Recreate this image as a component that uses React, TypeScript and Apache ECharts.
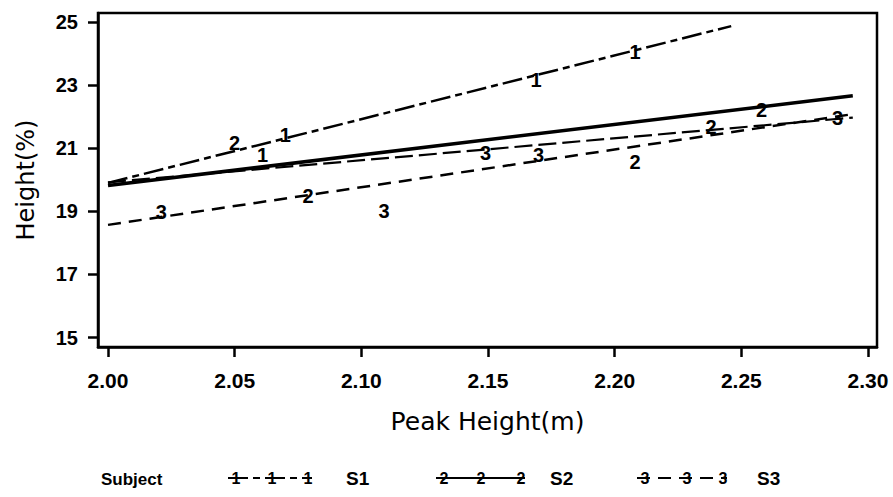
import React, { useEffect, useRef } from "react";
import * as echarts from "echarts";

// ---- data ----
const xTicks = [2.0, 2.05, 2.1, 2.15, 2.2, 2.25, 2.3];
const yTicks = [15, 17, 19, 21, 23, 25];

// fitted lines (end points)
const s1LineX = [2.0, 2.246];
const s1LineY = [19.9, 24.87];
const allLineX = [2.0, 2.294];
const allLineY = [19.82, 22.66];
const s2LineX = [2.0, 2.294];
const s2LineY = [19.92, 21.97];
const s3LineX = [2.0, 2.294];
const s3LineY = [18.57, 22.08];

// observations
const s1X = [2.061, 2.07, 2.169, 2.208];
const s1Y = [20.8, 21.43, 23.17, 24.05];
const s2X = [2.05, 2.079, 2.208, 2.238, 2.258];
const s2Y = [21.18, 19.47, 20.55, 21.68, 22.22];
const s3X = [2.021, 2.109, 2.149, 2.17, 2.288];
const s3Y = [18.97, 19.0, 20.86, 20.8, 21.97];

const legendNames = ["S1", "S2", "S3"];

const pairs = (xs: number[], ys: number[]) => xs.map((x, i) => [x, ys[i]]);

const lineSeries = (data: number[][], width: number, dash: number[] | "solid") => ({
  type: "line",
  data,
  symbol: "none",
  silent: true,
  color: "#000",
  lineStyle: { color: "#000", width, type: dash, cap: "butt" },
});

const pointSeries = (name: string, data: number[][], digit: string) => ({
  type: "custom",
  name,
  data,
  z: 5,
  silent: true,
  renderItem: (_params: any, api: any) => {
    const p = api.coord([api.value(0), api.value(1)]);
    return {
      type: "text",
      x: p[0],
      y: p[1],
      style: {
        text: digit,
        fill: "#000",
        font: "bold 20px 'Liberation Sans'",
        align: "center",
        verticalAlign: "middle",
      },
    };
  },
});

const S1_DASH = [20, 5, 7, 5];
const S2_DASH = [18, 6];
const S3_DASH = [13, 8];

function legendItem(x0: number, digitXs: number[], digit: string, dash: number[], label: string, labelX: number) {
  const y = 478;
  const els: any[] = [
    {
      type: "line",
      shape: { x1: x0, y1: y, x2: digitXs[digitXs.length - 1] + 4, y2: y },
      style: { stroke: "#000", lineWidth: 2, lineDash: dash },
    },
  ];
  digitXs.forEach((dx) => {
    els.push({
      type: "text",
      x: dx,
      y,
      style: {
        text: digit,
        fill: "#000",
        font: "bold 16px 'Liberation Sans'",
        align: "center",
        verticalAlign: "middle",
      },
    });
  });
  els.push({
    type: "text",
    x: labelX,
    y,
    style: {
      text: label,
      fill: "#000",
      font: "bold 19px 'Liberation Sans'",
      align: "left",
      verticalAlign: "middle",
    },
  });
  return els;
}

export default function App() {
  const ref = useRef<HTMLDivElement>(null);
  useEffect(() => {
    if (!ref.current) return;
    const chart = echarts.init(ref.current, undefined, { renderer: "svg" });
    const axisCommon = {
      axisLine: { show: true, lineStyle: { color: "#000", width: 2.5 } },
      axisTick: { show: true, inside: false, length: 10, lineStyle: { color: "#000", width: 2.5 } },
      splitLine: { show: false },
    };
    chart.setOption({
      animation: false,
      backgroundColor: "#fff",
      grid: { left: 98, right: 16, top: 13, bottom: 150, show: true, borderColor: "#000", borderWidth: 2.5 },
      xAxis: {
        type: "value",
        min: 1.99605,
        max: 2.30355,
        ...axisCommon,
        axisTick: { ...axisCommon.axisTick, customValues: xTicks },
        axisLabel: {
          customValues: xTicks,
          formatter: (v: number) => v.toFixed(2),
          color: "#000",
          fontFamily: "Liberation Sans",
          fontWeight: "bold",
          fontSize: 21,
          margin: 23,
        },
        name: "Peak Height(m)",
        nameLocation: "middle",
        nameGap: 62,
        nameTextStyle: { color: "#000", fontFamily: "DejaVu Sans", fontSize: 25 },
      },
      yAxis: {
        type: "value",
        min: 14.7,
        max: 25.285,
        ...axisCommon,
        axisTick: { ...axisCommon.axisTick, customValues: yTicks },
        axisLabel: {
          customValues: yTicks,
          formatter: (v: number) => String(Math.round(v)),
          color: "#000",
          fontFamily: "Liberation Sans",
          fontWeight: "bold",
          fontSize: 20,
          margin: 20,
        },
        name: "Height(%)",
        nameLocation: "middle",
        nameGap: 60,
        nameRotate: 90,
        nameTextStyle: { color: "#000", fontFamily: "DejaVu Sans", fontSize: 24 },
      },
      series: [
        lineSeries(pairs(s1LineX, s1LineY), 2.5, S1_DASH),
        lineSeries(pairs(allLineX, allLineY), 3.5, "solid"),
        lineSeries(pairs(s2LineX, s2LineY), 2.2, S2_DASH),
        lineSeries(pairs(s3LineX, s3LineY), 2.5, S3_DASH),
        pointSeries(legendNames[0], pairs(s1X, s1Y), "1"),
        pointSeries(legendNames[1], pairs(s2X, s2Y), "2"),
        pointSeries(legendNames[2], pairs(s3X, s3Y), "3"),
      ],
      graphic: [
        {
          type: "text",
          x: 101,
          y: 479,
          style: {
            text: "Subject",
            fill: "#000",
            font: "bold 17px 'Liberation Sans'",
            align: "left",
            verticalAlign: "middle",
          },
        },
        ...legendItem(228, [236, 272, 308], "1", S1_DASH, legendNames[0], 346),
        ...legendItem(436, [444, 481, 521], "2", [60, 0], legendNames[1], 550),
        ...legendItem(637, [645, 687, 723], "3", S3_DASH, legendNames[2], 757),
      ],
    });
    return () => chart.dispose();
  }, []);
  return <div ref={ref} style={{ width: 893, height: 497, position: "absolute", left: 0, top: 0 }} />;
}
